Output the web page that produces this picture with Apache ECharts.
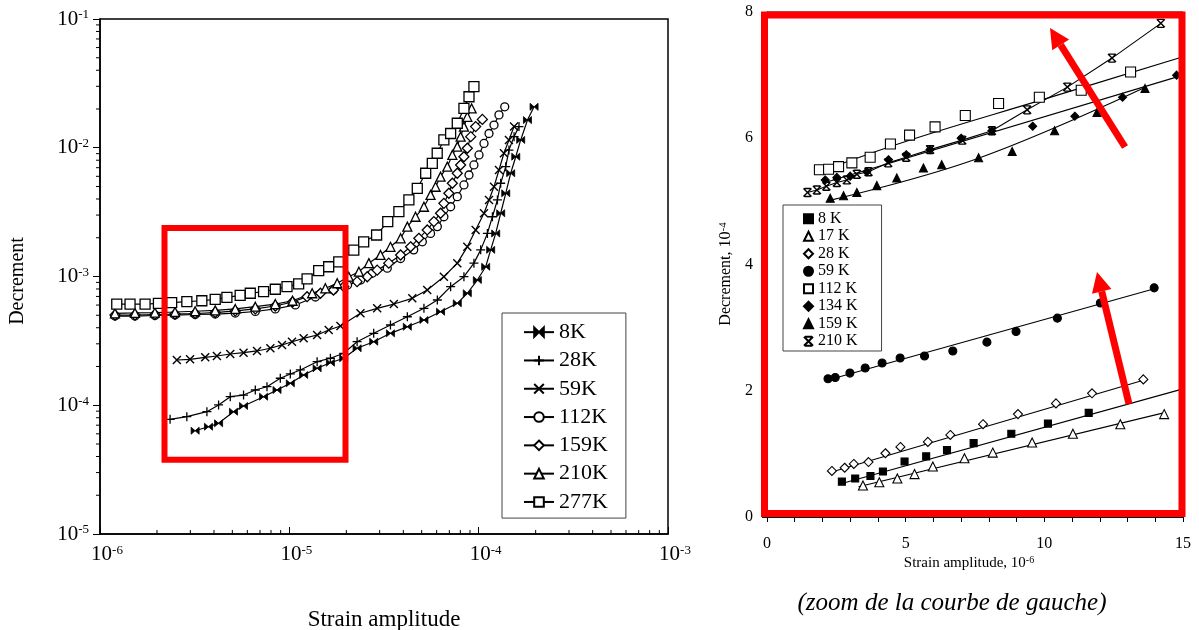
<!DOCTYPE html>
<html><head><meta charset="utf-8">
<script src="https://cdn.jsdelivr.net/npm/echarts@6/dist/echarts.min.js"></script>
<style>html,body{margin:0;padding:0;background:#fff}#c{width:1199px;height:630px}</style>
</head><body><div id="c"></div>
<script>
const SERIF = '"Liberation Serif","Times New Roman",serif';

// ---------- Left chart (log-log) : [strain amplitude, decrement] ----------
const L_8K = [[3.18e-6,6.34e-5],[3.74e-6,6.81e-5],[4.23e-6,7.24e-5],[5.07e-6,8.91e-5],[5.73e-6,9.87e-5],[7.31e-6,1.165e-4],[8.61e-6,1.313e-4],[1.012e-5,1.48e-4],[1.19e-5,1.718e-4],[1.402e-5,1.936e-4],[1.648e-5,2.14e-4],[1.937e-5,2.316e-4],[2.28e-5,2.77e-4],[2.79e-5,3.115e-4],[3.42e-5,3.62e-4],[4.2e-5,4.07e-4],[5.14e-5,4.59e-4],[6.29e-5,5.33e-4],[7.71e-5,6.19e-4],[8.71e-5,7.41e-4],[9.84e-5,9.39e-4],[1.089e-4,1.19e-3],[1.157e-4,1.61e-3],[1.23e-4,2.16e-3],[1.307e-4,3.1e-3],[1.39e-4,4.43e-3],[1.476e-4,6.34e-3],[1.57e-4,8.52e-3],[1.667e-4,1.15e-2],[1.81e-4,1.64e-2],[1.962e-4,2.08e-2]];
const L_28K = [[2.345e-6,7.78e-5],[2.875e-6,8.15e-5],[3.67e-6,8.91e-5],[4.23e-6,1.005e-4],[4.875e-6,1.165e-4],[5.73e-6,1.2e-4],[6.61e-6,1.313e-4],[7.62e-6,1.393e-4],[8.96e-6,1.62e-4],[1.012e-5,1.75e-4],[1.143e-5,1.88e-4],[1.402e-5,2.18e-4],[1.648e-5,2.317e-4],[1.937e-5,2.532e-4],[2.28e-5,3.115e-4],[2.79e-5,3.62e-4],[3.42e-5,4.2e-4],[4.2e-5,4.87e-4],[5.14e-5,5.66e-4],[6.05e-5,6.57e-4],[7.11e-5,8.34e-4],[8.36e-5,9.96e-4],[9.44e-5,1.27e-3],[1.025e-4,1.61e-3],[1.112e-4,2.16e-3],[1.182e-4,2.91e-3],[1.256e-4,3.93e-3],[1.307e-4,5.3e-3],[1.39e-4,7.13e-3],[1.445e-4,9.6e-3],[1.538e-4,1.22e-2],[1.633e-4,1.46e-2]];
const L_59K = [[2.546e-6,2.246e-4],[2.99e-6,2.275e-4],[3.595e-6,2.357e-4],[4.145e-6,2.413e-4],[4.875e-6,2.5e-4],[5.73e-6,2.56e-4],[6.75e-6,2.64e-4],[7.94e-6,2.77e-4],[9.15e-6,2.94e-4],[1.033e-5,3.115e-4],[1.19e-5,3.31e-4],[1.402e-5,3.515e-4],[1.614e-5,3.84e-4],[1.862e-5,4.13e-4],[2.375e-5,5.18e-4],[2.91e-5,5.66e-4],[3.565e-5,6.11e-4],[4.46e-5,6.77e-4],[5.35e-5,7.86e-4],[6.55e-5,9.96e-4],[7.71e-5,1.27e-3],[8.71e-5,1.7e-3],[9.64e-5,2.3e-3],[1.067e-4,3.1e-3],[1.134e-4,3.93e-3],[1.205e-4,4.98e-3],[1.28e-4,6.72e-3],[1.36e-4,9.06e-3],[1.445e-4,1.15e-2],[1.538e-4,1.46e-2]];
const L_112K = [[1.2e-6,4.93e-4],[1.53e-6,4.93e-4],[1.95e-6,4.98e-4],[2.49e-6,5.02e-4],[3.18e-6,5.07e-4],[4.06e-6,5.11e-4],[5.18e-6,5.2e-4],[6.61e-6,5.35e-4],[8.43e-6,5.6e-4],[1.076e-5,6.01e-4],[1.373e-5,6.93e-4],[1.71e-5,7.86e-4],[2.03e-5,8.59e-4],[2.38e-5,9.39e-4],[2.74e-5,1.06e-3],[3.29e-5,1.16e-3],[3.87e-5,1.38e-3],[4.54e-5,1.61e-3],[5.04e-5,1.86e-3],[5.57e-5,2.16e-3],[6.05e-5,2.44e-3],[6.55e-5,2.91e-3],[7.11e-5,3.48e-3],[7.71e-5,4.17e-3],[8.36e-5,5.14e-3],[8.89e-5,6.14e-3],[9.44e-5,7.35e-3],[1.004e-4,8.79e-3],[1.067e-4,1.08e-2],[1.134e-4,1.29e-2],[1.205e-4,1.5e-2],[1.28e-4,1.8e-2],[1.373e-4,2.08e-2]];
const L_159K = [[1.2e-6,5.02e-4],[1.53e-6,5.02e-4],[1.95e-6,5.07e-4],[2.49e-6,5.11e-4],[3.18e-6,5.16e-4],[4.06e-6,5.25e-4],[5.18e-6,5.4e-4],[6.61e-6,5.6e-4],[8.43e-6,5.9e-4],[1.04e-5,6.34e-4],[1.241e-5,6.97e-4],[1.46e-5,7.41e-4],[1.71e-5,7.86e-4],[1.94e-5,8.34e-4],[2.28e-5,9.12e-4],[2.58e-5,9.96e-4],[2.91e-5,1.12e-3],[3.35e-5,1.27e-3],[3.87e-5,1.47e-3],[4.37e-5,1.7e-3],[4.83e-5,1.98e-3],[5.35e-5,2.3e-3],[5.8e-5,2.67e-3],[6.29e-5,3.1e-3],[6.55e-5,3.7e-3],[6.96e-5,4.43e-3],[7.26e-5,5.3e-3],[7.71e-5,6.34e-3],[8.03e-5,7.35e-3],[8.36e-5,8.52e-3],[8.71e-5,9.91e-3],[9.08e-5,1.22e-2],[9.64e-5,1.46e-2],[1.046e-4,1.66e-2]];
const L_210K = [[1.2e-6,5.18e-4],[1.53e-6,5.21e-4],[1.95e-6,5.25e-4],[2.49e-6,5.3e-4],[3.18e-6,5.37e-4],[4.06e-6,5.46e-4],[5.18e-6,5.6e-4],[6.61e-6,5.83e-4],[8.43e-6,6.11e-4],[1.04e-5,6.48e-4],[1.32e-5,7.41e-4],[1.55e-5,8.1e-4],[1.79e-5,8.86e-4],[2.06e-5,9.96e-4],[2.33e-5,1.09e-3],[2.63e-5,1.27e-3],[3.03e-5,1.47e-3],[3.42e-5,1.7e-3],[3.87e-5,1.98e-3],[4.2e-5,2.44e-3],[4.64e-5,2.91e-3],[5.14e-5,3.48e-3],[5.57e-5,4.3e-3],[5.92e-5,4.98e-3],[6.29e-5,5.96e-3],[6.83e-5,7.13e-3],[7.26e-5,8.79e-3],[7.71e-5,1.02e-2],[8.03e-5,1.22e-2],[8.36e-5,1.46e-2],[8.71e-5,1.74e-2],[9.18e-5,2.02e-2]];
const L_277K = [[1.226e-6,6.11e-4],[1.441e-6,6.11e-4],[1.73e-6,6.11e-4],[2.035e-6,6.19e-4],[2.39e-6,6.26e-4],[2.875e-6,6.37e-4],[3.45e-6,6.48e-4],[4.06e-6,6.65e-4],[4.68e-6,6.89e-4],[5.5e-6,7.14e-4],[6.22e-6,7.41e-4],[7.31e-6,7.62e-4],[8.43e-6,7.96e-4],[9.72e-6,8.34e-4],[1.12e-5,8.75e-4],[1.241e-5,9.6e-4],[1.429e-5,1.109e-3],[1.614e-5,1.19e-3],[1.824e-5,1.3e-3],[2.19e-5,1.6e-3],[2.47e-5,1.86e-3],[2.89e-5,2.1e-3],[3.31e-5,2.67e-3],[3.79e-5,3.19e-3],[4.28e-5,3.93e-3],[4.74e-5,4.84e-3],[5.25e-5,6.34e-3],[5.69e-5,7.57e-3],[6.04e-5,9.06e-3],[6.55e-5,1.15e-2],[7.11e-5,1.29e-2],[7.71e-5,1.55e-2],[8.36e-5,2.02e-2],[8.89e-5,2.49e-2],[9.44e-5,2.98e-2]];

// ---------- Right chart (linear) : [strain amplitude 1e-6, decrement 1e-4] ----------
const R_8K   = [[2.70,0.56],[3.18,0.61],[3.73,0.65],[4.18,0.72],[4.96,0.88],[5.74,0.96],[6.49,1.06],[7.45,1.17],[8.81,1.32],[10.13,1.48],[11.6,1.65]];
const R_17K  = [[3.46,0.50],[4.05,0.55],[4.70,0.61],[5.32,0.68],[5.98,0.80],[7.12,0.93],[8.14,1.02],[9.56,1.18],[11.03,1.32],[12.74,1.47],[14.32,1.63]];
const R_28K  = [[2.34,0.73],[2.80,0.78],[3.13,0.84],[3.66,0.87],[4.27,1.01],[4.81,1.11],[5.80,1.19],[6.61,1.30],[7.79,1.47],[9.05,1.63],[10.42,1.80],[11.72,1.96],[13.57,2.18]];
const R_59K  = [[2.20,2.19],[2.46,2.21],[2.99,2.28],[3.54,2.36],[4.15,2.44],[4.80,2.52],[5.68,2.55],[6.70,2.63],[7.93,2.77],[8.98,2.94],[10.47,3.15],[12.02,3.39],[13.96,3.63]];
const R_112K = [[1.89,5.50],[2.22,5.51],[2.58,5.55],[3.06,5.61],[3.72,5.70],[4.45,5.91],[5.14,6.05],[6.06,6.18],[7.15,6.36],[8.35,6.55],[9.82,6.65],[11.33,6.76],[13.11,7.05]];
const R_134K = [[2.10,5.34],[2.52,5.38],[3.00,5.40],[3.60,5.47],[4.38,5.66],[5.02,5.74],[5.88,5.82],[7.00,6.00],[8.11,6.12],[9.58,6.19],[11.1,6.35],[12.82,6.65],[14.77,7.0]];
const R_159K = [[2.28,5.05],[2.76,5.09],[3.24,5.14],[3.96,5.25],[4.68,5.37],[5.64,5.53],[6.30,5.58],[7.63,5.69],[8.84,5.79],[10.37,6.12],[11.9,6.41],[13.63,6.79]];
const R_210K = [[1.46,5.14],[1.80,5.18],[2.14,5.24],[2.52,5.30],[2.88,5.34],[3.24,5.43],[3.66,5.47],[4.37,5.61],[5.02,5.70],[5.88,5.82],[7.04,5.97],[8.11,6.12],[9.38,6.45],[10.83,6.81],[12.44,7.27],[14.2,7.82]];
// fitted lines
const F_8K   = [[2.6,0.52],[15,2.03]];
const F_17K  = [[3.3,0.48],[14.3,1.65]];
const F_28K  = [[2.3,0.71],[13.6,2.17]];
const F_59K  = [[2.2,2.17],[14,3.62]];
const F_112K = [[1.9,5.47],[5,5.95],[10,6.62],[15,7.29]];
const F_134K = [[2.1,5.3],[15,7.0]];
const F_159K = [[2.3,5.02],[7.6,5.68],[13.6,6.8]];

const LEFT_NAMES = ['8K','28K','59K','112K','159K','210K','277K'];
const RIGHT_NAMES = ['8 K','17 K','28 K','59 K','112 K','134 K','159 K','210 K'];

const P_BOWTIE = 'path://M0,0L10,10L10,0L0,10Z';
const P_PLUS = 'path://M5,0L5,10M0,5L10,5';
const P_X = 'path://M0,0L10,10M10,0L0,10';
const P_XBAR = 'path://M0,0L10,10M10,0L0,10M1,0L9,0M1,10L9,10';

function lSeries(name, data, symbol, size, filled, bw) {
  return {name, type:'line', xAxisIndex:0, yAxisIndex:0, data, symbol, symbolSize:size,
    showAllSymbol:true, z:3,
    lineStyle:{color:'#000', width:1.2},
    itemStyle:{color: filled ? '#000' : '#fff', borderColor:'#000', borderWidth: bw || 1.3},
    emphasis:{disabled:true}};
}
function rScatter(name, data, symbol, size, filled, bw) {
  return {name, type:'scatter', xAxisIndex:1, yAxisIndex:1, data, symbol, symbolSize:size, z:4,
    itemStyle:{color: filled ? '#000' : '#fff', borderColor:'#000', borderWidth: bw || 1.1, opacity:1},
    emphasis:{disabled:true}};
}
function rFit(data, smooth) {
  return {type:'line', xAxisIndex:1, yAxisIndex:1, data, symbol:'none', smooth: smooth || false, z:3,
    lineStyle:{color:'#000', width:1.1}, silent:true, emphasis:{disabled:true}};
}

// minor ticks for log axes (decoration)
const yMinor = [], xMinor = [];
for (let e = -5; e <= -2; e++) for (let k = 2; k <= 9; k++) yMinor.push(k * Math.pow(10, e));
for (let e = -6; e <= -4; e++) for (let k = 2; k <= 9; k++) xMinor.push(k * Math.pow(10, e));
const tickYSeries = {type:'custom', xAxisIndex:0, yAxisIndex:0, silent:true, clip:false, z:5,
  data: yMinor.map(v => [1e-6, v]),
  renderItem: (p, api) => { const c = api.coord([api.value(0), api.value(1)]);
    return {type:'line', shape:{x1:c[0]-4, y1:c[1], x2:c[0], y2:c[1]}, style:{stroke:'#000', lineWidth:1}}; }};
const tickXSeries = {type:'custom', xAxisIndex:0, yAxisIndex:0, silent:true, clip:false, z:5,
  data: xMinor.map(v => [v, 1e-5]),
  renderItem: (p, api) => { const c = api.coord([api.value(0), api.value(1)]);
    return {type:'line', shape:{x1:c[0], y1:c[1], x2:c[0], y2:c[1]-4}, style:{stroke:'#000', lineWidth:1}}; }};

const expFmt = v => '10{s|' + Math.round(Math.log10(v)) + '}';
const expRich = {s:{fontSize:13, fontFamily:SERIF, verticalAlign:'top', color:'#000'}};

const RED = '#ff0000';
function arrow(tail, tip, hl, hw, w) {
  const dx = tip[0]-tail[0], dy = tip[1]-tail[1], L = Math.hypot(dx, dy);
  const ux = dx/L, uy = dy/L, bx = tip[0]-hl*ux, by = tip[1]-hl*uy, px = -uy, py = ux;
  return [
    {type:'line', z:100, shape:{x1:tail[0], y1:tail[1], x2:bx, y2:by}, style:{stroke:RED, lineWidth:w}},
    {type:'polygon', z:100, shape:{points:[tip,[bx+hw*px, by+hw*py],[bx-hw*px, by-hw*py]]}, style:{fill:RED}}
  ];
}

const option = {
  animation:false,
  backgroundColor:'#fff',
  textStyle:{fontFamily:SERIF, color:'#000'},
  grid:[
    {left:100, right:531, top:19, bottom:96, show:true, borderColor:'#000', borderWidth:1.5, backgroundColor:'transparent'},
    {left:767, right:16, top:12, bottom:113, show:true, borderColor:'#000', borderWidth:1, backgroundColor:'transparent'}
  ],
  xAxis:[
    {gridIndex:0, type:'log', logBase:10, min:1e-6, max:1e-3,
     axisLine:{lineStyle:{color:'#000', width:1.5}}, splitLine:{show:false},
     axisTick:{inside:true, length:7, lineStyle:{color:'#000'}},
     axisLabel:{formatter:expFmt, rich:expRich, fontSize:21, fontFamily:SERIF, color:'#000', margin:10, padding:[0,0,0,14]}},
    {gridIndex:1, type:'value', min:0, max:15, interval:1,
     axisLine:{lineStyle:{color:'#000', width:1}}, splitLine:{show:false},
     axisTick:{inside:false, length:5, lineStyle:{color:'#000'}},
     axisLabel:{formatter: v => (v % 5 === 0 ? String(v) : ''), fontSize:16, fontFamily:SERIF, color:'#000', margin:19}}
  ],
  yAxis:[
    {gridIndex:0, type:'log', logBase:10, min:1e-5, max:1e-1,
     axisLine:{lineStyle:{color:'#000', width:1.5}}, splitLine:{show:false},
     axisTick:{inside:false, length:7, lineStyle:{color:'#000'}},
     axisLabel:{formatter:expFmt, rich:expRich, fontSize:21, fontFamily:SERIF, color:'#000', margin:11}},
    {gridIndex:1, type:'value', min:0, max:8, interval:0.5,
     axisLine:{lineStyle:{color:'#000', width:1}}, splitLine:{show:false},
     axisTick:{inside:false, length:5, lineStyle:{color:'#000'}},
     axisLabel:{formatter: v => (v % 2 === 0 ? String(v) : ''), fontSize:16, fontFamily:SERIF, color:'#000', margin:14}}
  ],
  legend:[
    {data:LEFT_NAMES, orient:'vertical', left:502, top:313, itemWidth:30, itemHeight:12, itemGap:0,
     padding:[5,18,2,21], borderColor:'#444', borderWidth:1, borderRadius:0, backgroundColor:'#fff',
     selectedMode:false, textStyle:{fontSize:22, fontFamily:SERIF, color:'#000', lineHeight:28.3}},
    {data:RIGHT_NAMES, orient:'vertical', left:783, top:205, itemWidth:9, itemHeight:9, itemGap:0,
     padding:[5,24,1,20], borderColor:'#444', borderWidth:1, borderRadius:0, backgroundColor:'#fff',
     selectedMode:false, textStyle:{fontSize:16, fontFamily:SERIF, color:'#000', lineHeight:17.5}}
  ],
  series:[
    tickYSeries, tickXSeries,
    lSeries('8K', L_8K, P_BOWTIE, [8,7], true, 0.8),
    lSeries('28K', L_28K, P_PLUS, 9, true, 1.3),
    lSeries('59K', L_59K, P_X, 8, true, 1.4),
    lSeries('112K', L_112K, 'circle', 8, false),
    lSeries('159K', L_159K, 'diamond', 10, false),
    lSeries('210K', L_210K, 'triangle', 9, false),
    lSeries('277K', L_277K, 'rect', 10, false),
    rFit(F_8K), rFit(F_17K), rFit(F_28K), rFit(F_59K), rFit(F_112K, 0.4), rFit(F_134K), rFit(F_159K, 0.4),
    rFit(R_210K),
    rScatter('8 K', R_8K, 'rect', 7, true),
    rScatter('17 K', R_17K, 'triangle', 9, false),
    rScatter('28 K', R_28K, 'diamond', 9, false),
    rScatter('59 K', R_59K, 'circle', 8, true),
    rScatter('112 K', R_112K, 'rect', 10, false),
    rScatter('134 K', R_134K, 'diamond', 8, true),
    rScatter('159 K', R_159K, 'triangle', 8, true),
    rScatter('210 K', R_210K, P_XBAR, 8, true, 1.4)
  ],
  graphic:[
    {type:'text', x:18, y:281, rotation:Math.PI/2, z:50,
     style:{text:'Decrement', font:'20px ' + SERIF, fill:'#000', align:'center', verticalAlign:'middle'}},
    {type:'text', x:384, y:620, z:50,
     style:{text:'Strain amplitude', font:'23px ' + SERIF, fill:'#000', align:'center', verticalAlign:'middle'}},
    {type:'text', x:726, y:274, rotation:Math.PI/2, z:50,
     style:{text:'Decrement, 10{s|-4}', font:'16px ' + SERIF, fill:'#000', align:'center', verticalAlign:'middle',
            rich:{s:{fontSize:11, fontFamily:SERIF, verticalAlign:'top', fill:'#000'}}}},
    {type:'text', x:969, y:563, z:50,
     style:{text:'Strain amplitude, 10{s|-6}', font:'15px ' + SERIF, fill:'#000', align:'center', verticalAlign:'middle',
            rich:{s:{fontSize:10, fontFamily:SERIF, verticalAlign:'top', fill:'#000'}}}},
    {type:'text', x:952, y:603, z:50,
     style:{text:'(zoom de la courbe de gauche)', font:'italic 25px ' + SERIF, fill:'#000', align:'center', verticalAlign:'middle'}},
    {type:'rect', z:100, shape:{x:164.5, y:228, width:181, height:231.7}, style:{fill:'none', stroke:RED, lineWidth:6}},
    {type:'rect', z:100, shape:{x:764.5, y:15, width:417.5, height:498.5}, style:{fill:'none', stroke:RED, lineWidth:7}},
    ...arrow([1125,147],[1050,28],20,10,7),
    ...arrow([1129,404],[1097,272],20,10,7)
  ]
};

const chart = echarts.init(document.getElementById('c'), null, {renderer:'canvas'});
chart.setOption(option);
</script></body></html>
